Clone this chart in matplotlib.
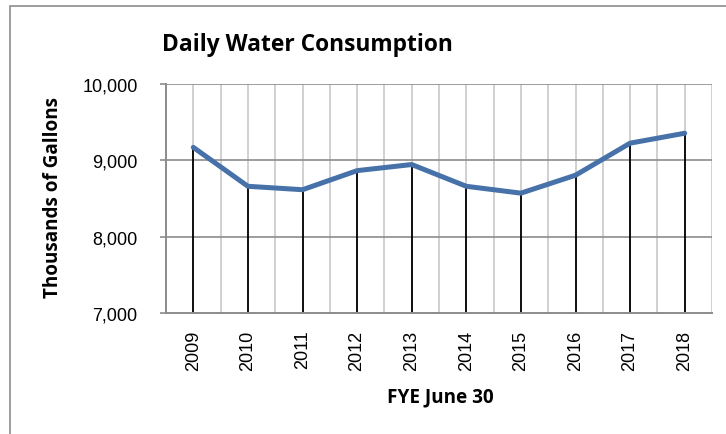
import numpy as np
import matplotlib
matplotlib.use("Agg")
import matplotlib.pyplot as plt
from matplotlib.patches import Rectangle
from matplotlib.ticker import FuncFormatter, MultipleLocator

# =========================
# Data
# =========================
years = ["2009", "2010", "2011", "2012", "2013", "2014", "2015", "2016", "2017", "2018"]
consumption = [9170, 8660, 8615, 8865, 8945, 8660, 8570, 8805, 9225, 9355]

# =========================
# Style
# =========================
W, H, dpi = 726, 435, 100
line_color = "#4672a9"
grid_major = "#8c8c8c"
grid_minor = "#c8c8c8"
label_font = "Open Sans"
tick_font = "Liberation Sans"

fig = plt.figure(figsize=(W / dpi, H / dpi), dpi=dpi)
ax = fig.add_axes([166 / W, 1 - 314 / H, (712 - 166) / W, (314 - 85) / H])

x = np.arange(len(years))

# grid lines
ax.set_xlim(-0.5, len(years) - 0.5)
ax.set_ylim(7000, 10000)
for xv in np.arange(-0.5, len(years), 0.5):
    ax.axvline(xv, color=grid_minor, linewidth=1.2, zorder=1)
for yv in [8000, 9000, 10000]:
    ax.axhline(yv, color=grid_major, linewidth=1.2, zorder=1)

# drop lines + series
ax.vlines(x, 7000, consumption, color="black", linewidth=1.3, zorder=2)
ax.plot(x, consumption, color=line_color, linewidth=3.6, solid_capstyle="round",
        solid_joinstyle="round", zorder=3)

# axes
for side in ["top", "right"]:
    ax.spines[side].set_visible(False)
for side in ["left", "bottom"]:
    ax.spines[side].set_color(grid_major)
    ax.spines[side].set_linewidth(1.4)
    ax.spines[side].set_zorder(4)

ax.yaxis.set_major_locator(MultipleLocator(1000))
ax.yaxis.set_major_formatter(FuncFormatter(lambda v, p: f"{int(v):,}"))
ax.tick_params(axis="y", direction="out", length=4.5, width=1.2, color=grid_major,
               pad=16, labelsize=13)
ax.set_xticks(x)
ax.set_xticklabels(years, rotation=90)
ax.tick_params(axis="x", length=0, pad=12, labelsize=13)
for lbl in ax.get_xticklabels() + ax.get_yticklabels():
    lbl.set_fontfamily(tick_font)

fig.text(162 / W, 1 - 45 / H, "Daily Water Consumption", fontsize=16.4, fontweight="bold",
         family=label_font, ha="left", va="center")
fig.text(53 / W, 1 - 197 / H, "Thousands of Gallons", fontsize=13.6, fontweight="bold",
         family=label_font, ha="center", va="center", rotation=90)
fig.text(440 / W, 1 - 397 / H, "FYE June 30", fontsize=13.6, fontweight="bold",
         family=label_font, ha="center", va="center")

# chart frame (only left/top visible in the crop)
fig.patches.append(Rectangle((9.5 / W, -0.1), 1.2, 1 - 6.5 / H + 0.1, transform=fig.transFigure,
                             fill=False, edgecolor="#8c8c8c", linewidth=1.2))

fig.savefig("out.png", dpi=dpi)
